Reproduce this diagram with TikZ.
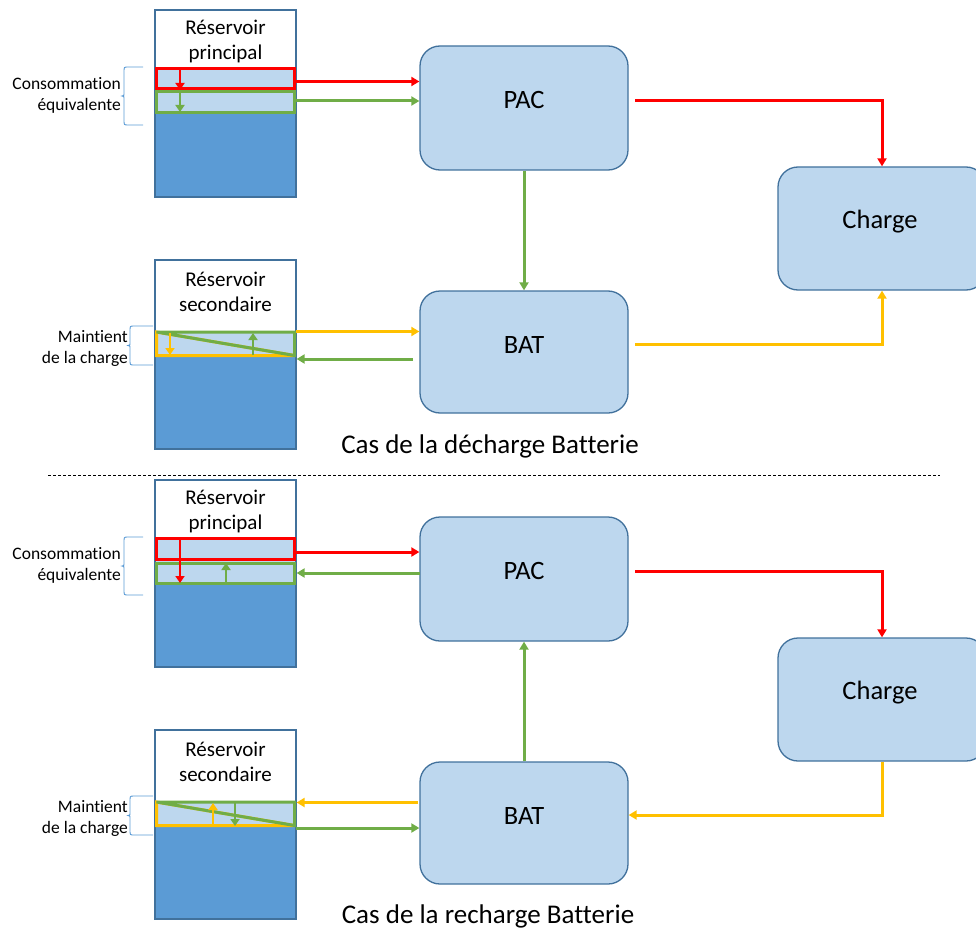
\documentclass[tikz,border=0pt]{standalone}
\usepackage{fontspec}
\setmainfont{Carlito}[Ligatures=NoCommon]
\usetikzlibrary{arrows.meta}
\definecolor{boxfill}{HTML}{BDD7EE}
\definecolor{boxline}{HTML}{41719C}
\definecolor{water}{HTML}{5B9BD5}
\definecolor{cred}{HTML}{FF0000}
\definecolor{cgreen}{HTML}{70AD47}
\definecolor{cyellow}{HTML}{FFC000}
\tikzset{
 block/.style={draw=boxline, fill=boxfill, line width=1.3pt, rounded corners=20pt, minimum width=208pt, minimum height=124pt, inner sep=0pt},
 blocktext/.style={font=\fontsize{26.5}{31}\selectfont, inner sep=0pt},
 tank/.style={draw=boxline, line width=1.2pt, minimum width=141pt, inner sep=0pt},
 tanktext/.style={font=\fontsize{21}{25}\selectfont, align=center, inner sep=0pt},
 sidetext/.style={font=\fontsize{17.5}{21}\selectfont, align=right, anchor=east, inner sep=0pt},
 captiontext/.style={font=\fontsize{27}{32}\selectfont, inner sep=0pt},
 flow/.style={line width=3pt, -{Triangle[length=8pt,width=9pt]}},
 innerflow/.style={line width=2.6pt, -{Triangle[length=7pt,width=9pt]}},
 bandline/.style={line width=3pt},
 bracket/.style={draw=water, line width=0.9pt},
}
\newcommand{\mybrace}[4]{%
 \draw[bracket] (#1,#3) -- ({#2+6},#3) .. controls ({#2+2},#3) .. ({#2+2},{#3+5})
  -- ({#2+2},{(#3+#4)/2-4}) .. controls ({#2+2},{(#3+#4)/2}) .. (#2,{(#3+#4)/2})
  .. controls ({#2+2},{(#3+#4)/2}) .. ({#2+2},{(#3+#4)/2+4})
  -- ({#2+2},{#4-5}) .. controls ({#2+2},#4) .. ({#2+6},#4) -- (#1,#4);}
\begin{document}
\begin{tikzpicture}[x=1pt,y=-1pt]
\useasboundingbox (0,0) rectangle (976,928);

% ================= TOP HALF =================
% main blocks
\node[block] (pac) at (524,108) {};
\node[blocktext] (pact) at (524,100) {PAC};
\node[block, minimum height=122pt] (bat) at (524,352) {};
\node[blocktext] (batt) at (524,345) {BAT};
\node[block, minimum height=123pt] (chg) at (882,228.5) {};
\node[blocktext] (chgt) at (880,222) {Charge};

% principal reservoir
\fill[boxfill] (155,67) rectangle (296,114);
\fill[water] (155,114) rectangle (296,197);
\node[tank, minimum height=187pt] (res1) at (225.5,103.5) {};
\node[tanktext] (res1t) at (225.5,41) {Réservoir\\principal};
\draw[bandline, cred] (156.5,68.5) rectangle (294.5,89);
\draw[bandline, cgreen] (156.5,92) rectangle (294.5,112.5);
\coordinate (a1s) at (180,69); \coordinate (a1e) at (180,90);
\draw[innerflow, cred] (a1s) -- (a1e);
\coordinate (a2s) at (180,92); \coordinate (a2e) at (180,112);
\draw[innerflow, cgreen] (a2s) -- (a2e);
\mybrace{143}{122}{67}{125}
\node[sidetext] (cons1) at (121,95) {Consommation\\équivalente};

% secondary reservoir
\fill[boxfill] (155,331) rectangle (296,357);
\fill[water] (155,357) rectangle (296,449);
\node[tank, minimum height=189pt] (res2) at (225.5,354.5) {};
\node[tanktext] (res2t) at (225.5,292) {Réservoir\\secondaire};
\draw[bandline, cyellow] (156.5,332) -- (156.5,355.5) -- (294.5,355.5) -- cycle;
\draw[bandline, cgreen] (156.5,332) -- (294.5,332) -- (294.5,355.5) -- cycle;
\coordinate (a3s) at (170,333); \coordinate (a3e) at (170,355);
\draw[innerflow, cyellow] (a3s) -- (a3e);
\coordinate (a4s) at (253,355); \coordinate (a4e) at (253,333);
\draw[innerflow, cgreen] (a4s) -- (a4e);
\mybrace{153}{128}{326}{365}
\node[sidetext] (main1) at (128,348) {Maintient\\de la charge};

% connectors
\coordinate (r1o) at (296,81.5);
\draw[flow, cred] (r1o) -- (r1o -| pac.west);
\coordinate (g1o) at (296,101);
\draw[flow, cgreen] (g1o) -- (g1o -| pac.west);
\coordinate (r2o) at (635,100.5);
\draw[flow, cred] (r2o) -| (chg.north);
\draw[flow, cgreen] (pac.south) -- (bat.north);
\coordinate (y2o) at (635,344);
\draw[flow, cyellow] (y2o) -| (chg.south);
\coordinate (y1o) at (296,331.5);
\draw[flow, cyellow] (y1o) -- (y1o -| bat.west);
\coordinate (g3o) at (413,359);
\draw[flow, cgreen] (g3o) -- (g3o -| res2.east);

\node[captiontext] (cap1) at (490,446) {Cas de la décharge Batterie};

% separator
\coordinate (sepL) at (48,475); \coordinate (sepR) at (940,475);
\draw[dash pattern=on 3pt off 2pt, line width=0.7pt] (sepL) -- (sepR);

% ================= BOTTOM HALF =================
\node[block] (pac2) at (524,579) {};
\node[blocktext] (pac2t) at (524,571) {PAC};
\node[block, minimum height=122pt] (bat2) at (524,823) {};
\node[blocktext] (bat2t) at (524,816) {BAT};
\node[block, minimum height=123pt] (chg2) at (882,699.5) {};
\node[blocktext] (chg2t) at (880,693) {Charge};

% principal reservoir
\fill[boxfill] (155,537) rectangle (296,584);
\fill[water] (155,584) rectangle (296,667);
\node[tank, minimum height=187pt] (res3) at (225.5,573.5) {};
\node[tanktext] (res3t) at (225.5,511) {Réservoir\\principal};
\draw[bandline, cred] (156.5,538.5) rectangle (294.5,559.5);
\draw[bandline, cgreen] (156.5,563) rectangle (294.5,583.5);
\coordinate (b1s) at (180,539); \coordinate (b1e) at (180,583);
\draw[innerflow, cred] (b1s) -- (b1e);
\coordinate (b2s) at (226,583); \coordinate (b2e) at (226,563);
\draw[innerflow, cgreen] (b2s) -- (b2e);
\mybrace{143}{122}{537}{595}
\node[sidetext] (cons2) at (121,565) {Consommation\\équivalente};

% secondary reservoir
\fill[boxfill] (155,801) rectangle (296,827);
\fill[water] (155,827) rectangle (296,919);
\node[tank, minimum height=189pt] (res4) at (225.5,824.5) {};
\node[tanktext] (res4t) at (225.5,762) {Réservoir\\secondaire};
\draw[bandline, cyellow] (156.5,802) -- (156.5,825.5) -- (294.5,825.5) -- cycle;
\draw[bandline, cgreen] (156.5,802) -- (294.5,802) -- (294.5,825.5) -- cycle;
\coordinate (b3s) at (213,826); \coordinate (b3e) at (213,803);
\draw[innerflow, cyellow] (b3s) -- (b3e);
\coordinate (b4s) at (235,803); \coordinate (b4e) at (235,826);
\draw[innerflow, cgreen] (b4s) -- (b4e);
\mybrace{153}{128}{796}{835}
\node[sidetext] (main2) at (128,818) {Maintient\\de la charge};

% connectors
\coordinate (r3o) at (296,552);
\draw[flow, cred] (r3o) -- (r3o -| pac2.west);
\coordinate (g5s) at (420,573);
\draw[flow, cgreen] (g5s) -- (g5s -| res3.east);
\coordinate (r4o) at (635,571.5);
\draw[flow, cred] (r4o) -| (chg2.north);
\draw[flow, cgreen] (bat2.north) -- (pac2.south);
\coordinate (y4h) at (700,815);
\draw[flow, cyellow] (chg2.south) |- (y4h -| bat2.east);
\coordinate (y5s) at (418,802.5);
\draw[flow, cyellow] (y5s) -- (y5s -| res4.east);
\coordinate (g6o) at (296,828);
\draw[flow, cgreen] (g6o) -- (g6o -| bat2.west);

\node[captiontext] (cap2) at (488,916) {Cas de la recharge Batterie};
\end{tikzpicture}
\end{document}
